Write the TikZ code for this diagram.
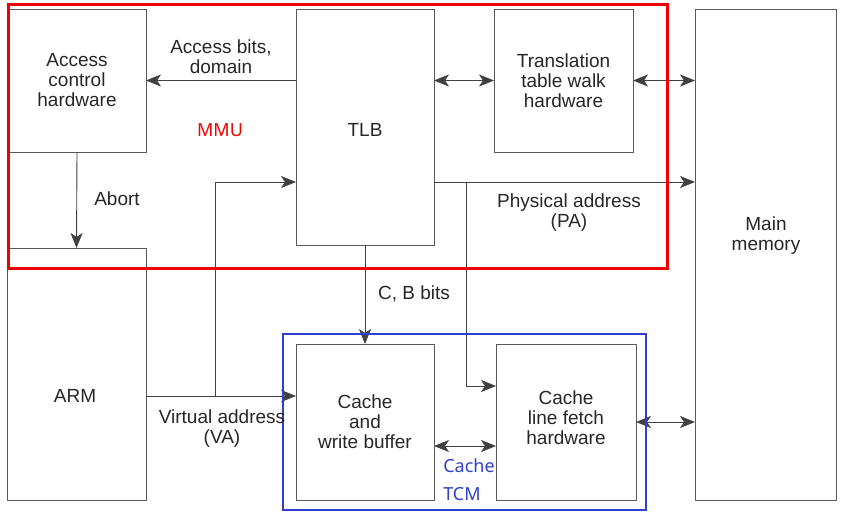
\documentclass[tikz,border=0pt]{standalone}
\usepackage{fontspec}
\setmainfont{Liberation Sans}
\newfontfamily\notefont{Noto Sans}
\usetikzlibrary{arrows.meta}

\definecolor{linegray}{HTML}{5A5A5A}
\definecolor{mmured}{HTML}{EE0000}
\definecolor{cacheblue}{HTML}{3040C8}

\tikzstyle{block} = [rectangle,draw=linegray,line width=1pt,outer sep=0pt,align=center,text=black!85,font=\fontsize{19}{20}\selectfont]
\tikzstyle{edge} = [-{Stealth[length=15pt,width=12pt,inset=4pt]},line width=.9pt,draw=black!75]
\tikzstyle{biedge} = [{Stealth[length=15pt,width=12pt,inset=4pt]}-{Stealth[length=15pt,width=12pt,inset=4pt]},line width=.9pt,draw=black!75]
\tikzstyle{label} = [align=center,text=black!85,font=\fontsize{19}{20}\selectfont]
\tikzstyle{note} = [font=\notefont\fontsize{18}{20}\selectfont]

\begin{document}
\begin{tikzpicture}[x=1pt,y=-1pt]
\useasboundingbox (0,0) rectangle (842,514);

% blocks
\node[block,minimum width=138pt,minimum height=143pt] (acc) at (77,80.5) {Access\\control\\hardware};
\node[block,minimum width=138pt,minimum height=236pt] (tlb) at (365,127) {};
\node[block,minimum width=139pt,minimum height=143pt] (ttw) at (563.5,80.5) {Translation\\table walk\\hardware};
\node[block,minimum width=141pt,minimum height=491pt] (mem) at (765.5,254.5) {};
\node[block,minimum width=139pt,minimum height=252pt] (arm) at (76.5,374) {};
\node[block,minimum width=138pt,minimum height=156pt] (cwb) at (365,422) {Cache\\and\\write buffer};
\node[block,minimum width=140pt,minimum height=156pt] (clf) at (566,422) {};

% block texts off centre
\node[label] (tlbtext) at (365,130) {TLB};
\node[label] (memtext) at (766,236) {Main\\memory};
\node[label] (armtext) at (75,396) {ARM};
\node[label] (clftext) at (566,418) {Cache\\line fetch\\hardware};

% branch points
\coordinate (va) at (215,396);
\coordinate (pa) at (466,182);
\coordinate (pf) at (466,386);

% edges
\draw[edge] (tlb.west |- acc) -- (acc.east);
\draw[edge] (acc.south) -- (arm.north);
\draw[biedge] (tlb.east |- ttw) -- (ttw.west);
\draw[biedge] (ttw.east) -- (mem.west |- ttw);
\draw[edge] (arm.east |- va) -- (cwb.west |- va);
\draw[edge] (va) |- (tlb.west |- pa);
\draw[edge] (tlb.east |- pa) -- (mem.west |- pa);
\draw[edge] (pa) |- (pf -| clf.west);
\draw[edge] (tlb.south) -- (cwb.north);
\draw[biedge] ([yshift=-24pt]cwb.east) -- ([yshift=-24pt]clf.west);
\draw[biedge] (clf.east) -- (mem.west |- clf.east);

% groups
\draw[mmured,line width=3pt] (8,4) rectangle (667,268);
\draw[cacheblue,line width=2.5pt] (283,334) rectangle (646,510);

% labels
\node[label] (accbits) at (221,57) {Access bits,\\domain};
\node[label] (abort) at (117,199) {Abort};
\node[label] (vaddr) at (222,429) {Virtual address\\(VA)};
\node[label] (cbbits) at (414,294) {C, B bits};
\node[label] (paddr) at (569,213) {Physical address\\(PA)};
\node[note,text=mmured] (mmu) at (220,130) {MMU};
\node[note,text=cacheblue] (cache) at (469,466) {Cache};
\node[note,text=cacheblue] (tcm) at (462,494) {TCM};

\end{tikzpicture}
\end{document}
